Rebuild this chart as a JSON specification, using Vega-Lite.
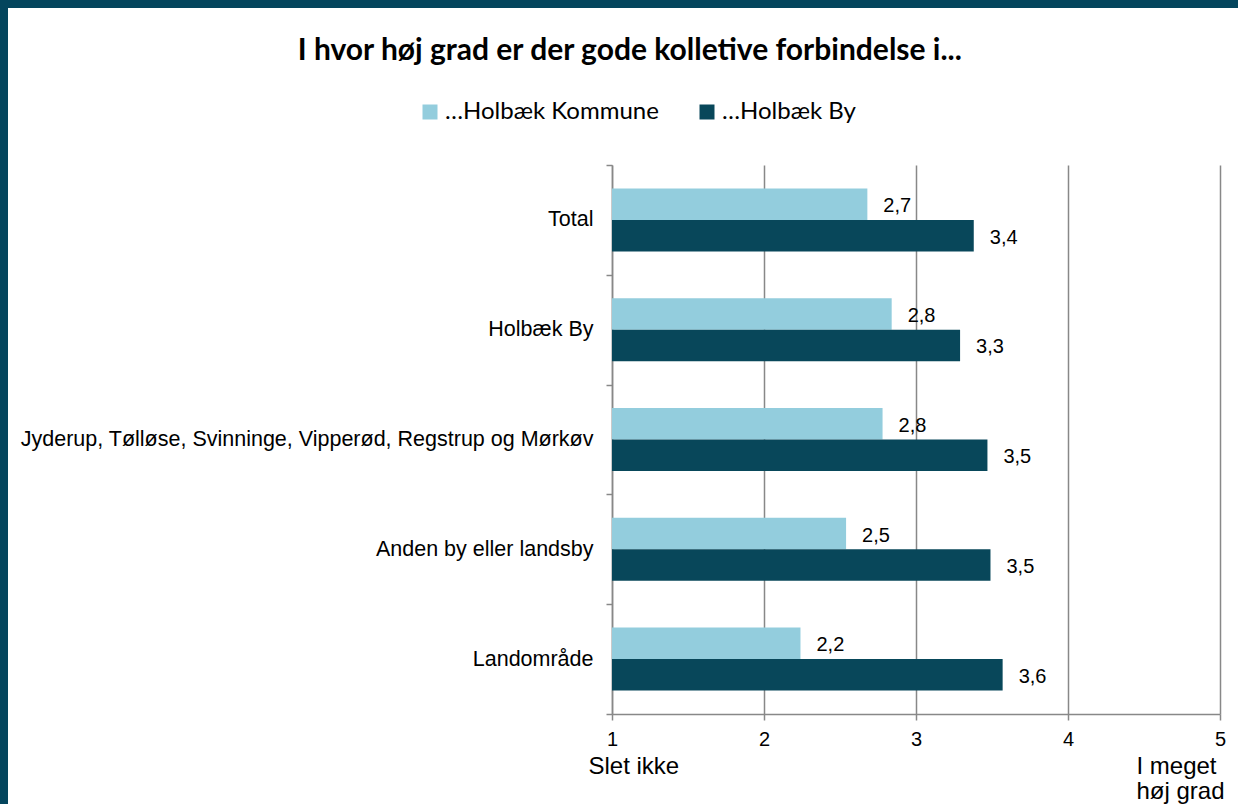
{
  "$schema": "https://vega.github.io/schema/vega-lite/v6.json",
  "padding": 0,
  "background": "white",
  "config": {
    "view": {"stroke": null},
    "font": "Liberation Sans",
    "locale": {"number": {"decimal": ",", "thousands": ".", "grouping": [3], "currency": ["", " kr."]}}
  },
  "spacing": 0,
  "align": "none",
  "vconcat": [
    {
      "width": 1238,
      "height": 8,
      "data": {"values": [{"del": "kant"}]},
      "mark": {"type": "point", "opacity": 0},
      "encoding": {},
      "view": {"fill": "#04455D", "stroke": null}
    },
    {
      "spacing": 0,
      "align": "none",
      "hconcat": [
        {
          "width": 8,
          "height": 796,
          "data": {"values": [{"del": "kant"}]},
          "mark": {"type": "point", "opacity": 0},
          "encoding": {},
          "view": {"fill": "#04455D", "stroke": null}
        },
        {
          "spacing": 20,
          "align": "none",
          "vconcat": [
            {
              "width": 1,
              "height": 8,
              "data": {"values": [{"del": "luft"}]},
              "mark": {"type": "point", "opacity": 0},
              "encoding": {},
              "view": {"stroke": null}
            },
            {
              "width": 608,
              "height": 549,
              "title": {
                "text": "I hvor høj grad er der gode kolletive forbindelse i...",
                "font": "Lato",
                "fontSize": 30,
                "fontWeight": "bold",
                "color": "black",
                "anchor": "middle",
                "frame": "bounds",
                "offset": 88,
                "dx": 13
              },
              "data": {
                "values": [
                  {"omraade": "Total", "serie": "…Holbæk Kommune", "vaerdi": 2.68},
                  {"omraade": "Total", "serie": "…Holbæk By", "vaerdi": 3.38},
                  {"omraade": "Holbæk By", "serie": "…Holbæk Kommune", "vaerdi": 2.84},
                  {"omraade": "Holbæk By", "serie": "…Holbæk By", "vaerdi": 3.29},
                  {"omraade": "Jyderup, Tølløse, Svinninge, Vipperød, Regstrup og Mørkøv", "serie": "…Holbæk Kommune", "vaerdi": 2.78},
                  {"omraade": "Jyderup, Tølløse, Svinninge, Vipperød, Regstrup og Mørkøv", "serie": "…Holbæk By", "vaerdi": 3.47},
                  {"omraade": "Anden by eller landsby", "serie": "…Holbæk Kommune", "vaerdi": 2.54},
                  {"omraade": "Anden by eller landsby", "serie": "…Holbæk By", "vaerdi": 3.49},
                  {"omraade": "Landområde", "serie": "…Holbæk Kommune", "vaerdi": 2.24},
                  {"omraade": "Landområde", "serie": "…Holbæk By", "vaerdi": 3.57}
                ]
              },
              "encoding": {
                "y": {
                  "field": "omraade",
                  "type": "nominal",
                  "sort": null,
                  "scale": {"paddingInner": 0, "paddingOuter": 0},
                  "axis": {
                    "title": null,
                    "domainColor": "#888888",
                    "domainWidth": 1.5,
                    "ticks": true,
                    "tickBand": "extent",
                    "tickSize": 6,
                    "tickColor": "#888888",
                    "tickWidth": 1.5,
                    "labelFont": "Liberation Sans",
                    "labelFontSize": 21.5,
                    "labelColor": "black",
                    "labelPadding": 13,
                    "labelLimit": 0,
                    "minExtent": 604,
                    "maxExtent": 604,
                    "grid": false
                  }
                },
                "yOffset": {
                  "field": "serie",
                  "type": "nominal",
                  "sort": null,
                  "scale": {"paddingInner": 0, "paddingOuter": 0.743}
                }
              },
              "layer": [
                {
                  "mark": {"type": "bar"},
                  "encoding": {
                    "x": {
                      "field": "vaerdi",
                      "type": "quantitative",
                      "scale": {"domain": [1, 5], "zero": false, "nice": false},
                      "axis": {
                        "orient": "bottom",
                        "title": null,
                        "values": [1, 2, 3, 4, 5],
                        "grid": true,
                        "gridColor": "#888888",
                        "gridWidth": 1.5,
                        "domainColor": "#888888",
                        "domainWidth": 1.5,
                        "tickSize": 6,
                        "tickColor": "#888888",
                        "tickWidth": 1.5,
                        "labelFont": "Liberation Sans",
                        "labelFontSize": 20,
                        "labelColor": "black",
                        "labelPadding": 9,
                        "labelFlush": false,
                        "labelOverlap": false
                      }
                    },
                    "x2": {"datum": 1},
                    "color": {
                      "field": "serie",
                      "type": "nominal",
                      "sort": null,
                      "scale": {"domain": ["…Holbæk Kommune", "…Holbæk By"], "range": ["#93CDDD", "#08475A"]},
                      "legend": {
                        "orient": "none",
                        "legendX": 418,
                        "legendY": 100,
                        "direction": "horizontal",
                        "title": null,
                        "symbolType": "square",
                        "symbolSize": 225,
                        "symbolStrokeWidth": 0,
                        "symbolOpacity": 1,
                        "labelFont": "Lato",
                        "labelFontSize": 24,
                        "labelColor": "black",
                        "labelOffset": 3,
                        "columnPadding": 36,
                        "padding": 0,
                        "labelLimit": 0
                      }
                    }
                  }
                },
                {
                  "mark": {"type": "text", "align": "left", "baseline": "middle", "dx": 16, "dy": 2, "fontSize": 20, "font": "Liberation Sans", "color": "black"},
                  "encoding": {
                    "x": {
                      "field": "vaerdi",
                      "type": "quantitative",
                      "scale": {"domain": [1, 5], "zero": false, "nice": false},
                      "axis": {
                        "orient": "bottom",
                        "title": null,
                        "values": [1, 5],
                        "domain": false,
                        "ticks": false,
                        "grid": false,
                        "labelExpr": "datum.value == 1 ? 'Slet ikke' : ['I meget', 'høj grad']",
                        "labelFont": "Liberation Sans",
                        "labelFontSize": 24,
                        "labelLineHeight": 25,
                        "labelColor": "black",
                        "labelAlign": "left",
                        "labelOffset": {"condition": {"test": "datum.value == 1", "value": -24}, "value": -84},
                        "labelPadding": 0,
                        "offset": 40,
                        "labelFlush": false,
                        "labelOverlap": false,
                        "labelBound": false
                      }
                    },
                    "text": {"field": "vaerdi", "type": "quantitative", "format": ".1f"}
                  }
                }
              ],
              "resolve": {"axis": {"x": "independent"}}
            }
          ]
        }
      ]
    }
  ]
}
